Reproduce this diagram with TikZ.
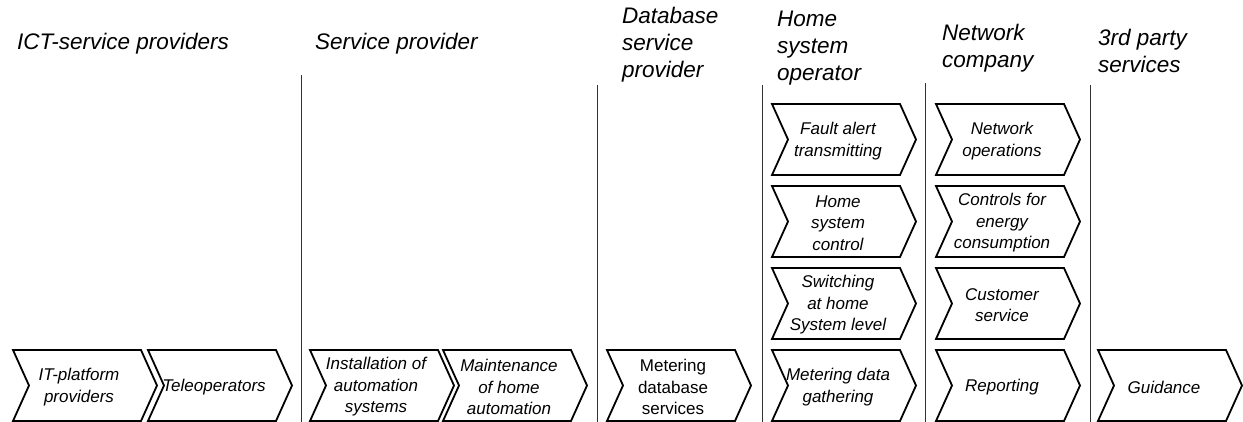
\documentclass[tikz,border=0pt]{standalone}
\usepackage{fontspec}
\setmainfont{Liberation Sans}
\usetikzlibrary{positioning}

\tikzset{
  chev/.style={line width=1.8pt, line join=miter, fill=white},
  chevtext/.style={align=center, inner sep=0pt, font=\fontsize{17}{21.5}\selectfont\itshape},
  headtext/.style={align=left, anchor=west, inner sep=0pt, font=\fontsize{22.5}{27}\selectfont\itshape},
  sepline/.style={line width=1pt, black!80}
}

% chevron: name, left x, top y, text
\newcommand{\chevron}[5][]{%
  \draw[chev] (#3,#4) -- ++(128,0) -- ++(16,35.5) -- ++(-16,35.5) -- ++(-128,0) -- ++(16,-35.5) -- cycle;
  \node[chevtext,#1] (#2) at (#3+66,#4+37) {#5};
}

\begin{document}
\begin{tikzpicture}[x=1pt,y=-1pt]
  \useasboundingbox (0,0) rectangle (1243,422);

  %columns
  \draw[sepline] (301,75) -- (301,422);
  \draw[sepline] (597,85) -- (597,422);
  \draw[sepline] (762,85) -- (762,422);
  \draw[sepline] (925,83) -- (925,422);
  \draw[sepline] (1090,85) -- (1090,422);

  %headers
  \node[headtext] (ict) at (17,44) {ICT-service providers};
  \node[headtext] (serv) at (315,44) {Service provider};
  \node[headtext] (dbase) at (622,45) {Database\\service\\provider};
  \node[headtext] (home) at (777,48) {Home\\system\\operator};
  \node[headtext] (netw) at (942,48) {Network\\company};
  \node[headtext] (third) at (1098,51) {3rd party\\services};

  %bottom row
  \chevron{itplat}{13}{350}{IT-platform\\providers}
  \chevron{teleop}{148}{350}{Teleoperators}
  \chevron{install}{310}{350}{Installation of\\automation\\systems}
  \chevron{maint}{443}{350}{Maintenance\\of home\\automation}
  \chevron[font=\fontsize{17}{21.5}\selectfont]{meterdb}{607}{350}{Metering\\database\\services}
  \chevron{guide}{1098}{350}{Guidance}

  %home system operator
  \chevron{fault}{772}{104}{Fault alert\\transmitting}
  \chevron{homectrl}{772}{186}{Home\\system\\control}
  \chevron{switch}{772}{268}{Switching\\at home\\System level}
  \chevron{meterdata}{772}{350}{Metering data\\gathering}

  %network company
  \chevron{netops}{936}{104}{Network\\operations}
  \chevron{energy}{936}{186}{Controls for\\energy\\consumption}
  \chevron{custom}{936}{268}{Customer\\service}
  \chevron{report}{936}{350}{Reporting}
\end{tikzpicture}
\end{document}
